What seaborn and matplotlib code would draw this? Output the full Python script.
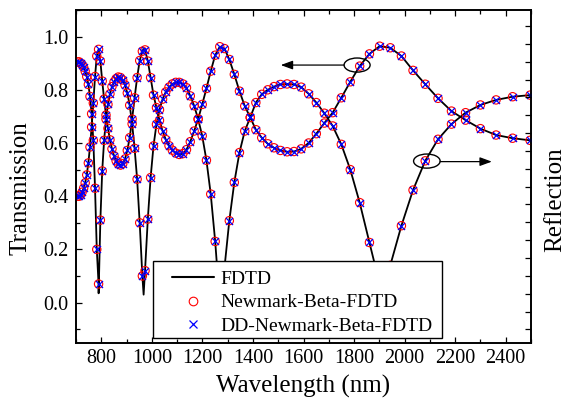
import matplotlib
matplotlib.use("Agg")
import matplotlib.pyplot as plt
from matplotlib.lines import Line2D
from matplotlib.patches import Ellipse, Rectangle
from matplotlib.ticker import MultipleLocator, FixedLocator
import pandas as pd
import seaborn as sns

# ---------------- data ----------------
wavelength = [706.6, 712.4, 718.2, 724.1, 730.1, 736.3, 742.5, 748.8, 755.3, 761.8,
              768.5, 775.3, 782.2, 789.3, 796.4, 803.7, 811.2, 818.7, 826.4, 834.3,
              842.3, 850.5, 858.8, 867.3, 876.0, 884.8, 893.8, 903.0, 912.4, 922.0,
              931.8, 941.8, 952.0, 962.5, 973.1, 984.1, 995.2, 1006.6, 1018.3, 1030.3,
              1042.5, 1055.1, 1067.9, 1081.1, 1094.6, 1108.4, 1122.6, 1137.1, 1152.1, 1167.4,
              1183.2, 1199.3, 1216.0, 1233.0, 1250.6, 1268.7, 1287.3, 1306.5, 1326.3, 1346.6,
              1367.6, 1389.3, 1411.6, 1434.7, 1458.6, 1483.2, 1508.7, 1535.2, 1562.5, 1590.8,
              1620.2, 1650.7, 1682.4, 1715.3, 1749.5, 1785.1, 1822.2, 1860.8, 1901.1, 1943.3,
              1987.3, 2033.3, 2081.6, 2132.2, 2185.3, 2241.1, 2299.9, 2361.8, 2427.2, 2496.3]

transmission = [0.400, 0.400, 0.405, 0.415, 0.430, 0.450, 0.480, 0.525, 0.585, 0.660,
                0.750, 0.850, 0.927, 0.952, 0.908, 0.833, 0.765, 0.705, 0.655, 0.612,
                0.578, 0.552, 0.533, 0.521, 0.517, 0.522, 0.540, 0.572, 0.620, 0.690,
                0.770, 0.846, 0.910, 0.945, 0.950, 0.908, 0.846, 0.780, 0.733, 0.685,
                0.645, 0.613, 0.590, 0.573, 0.562, 0.557, 0.560, 0.575, 0.605, 0.645,
                0.690, 0.745, 0.805, 0.870, 0.930, 0.962, 0.955, 0.914, 0.858, 0.795,
                0.739, 0.696, 0.650, 0.620, 0.597, 0.582, 0.572, 0.567, 0.568, 0.578,
                0.600, 0.635, 0.675, 0.714, 0.770, 0.830, 0.889, 0.935, 0.964, 0.958,
                0.927, 0.873, 0.821, 0.768, 0.720, 0.686, 0.654, 0.630, 0.618, 0.610]

reflection = [0.905, 0.905, 0.900, 0.895, 0.885, 0.870, 0.850, 0.820, 0.775, 0.710,
              0.610, 0.430, 0.200, 0.070, 0.310, 0.495, 0.610, 0.690, 0.745, 0.785,
              0.812, 0.830, 0.842, 0.848, 0.846, 0.837, 0.818, 0.788, 0.742, 0.672,
              0.580, 0.464, 0.300, 0.100, 0.120, 0.314, 0.470, 0.589, 0.670, 0.725,
              0.765, 0.792, 0.810, 0.822, 0.828, 0.828, 0.822, 0.808, 0.777, 0.740,
              0.690, 0.627, 0.535, 0.408, 0.230, 0.000, 0.130, 0.308, 0.452, 0.564,
              0.645, 0.696, 0.752, 0.783, 0.800, 0.812, 0.820, 0.822, 0.820, 0.810,
              0.785, 0.752, 0.712, 0.664, 0.595, 0.500, 0.376, 0.226, 0.070, 0.140,
              0.289, 0.423, 0.533, 0.614, 0.671, 0.714, 0.743, 0.762, 0.774, 0.780]

# extra FDTD extremes between the sampled points (resonance peak / dips)
peak_wavelength_T = [968.0]
peak_T = [0.955]
dip_wavelength_R = [789.5, 967.5, 1272.0, 1913.0]
dip_R = [0.035, 0.030, -0.020, 0.020]

x_ticks = [800, 1000, 1200, 1400, 1600, 1800, 2000, 2200, 2400]
y_ticks = [0.0, 0.2, 0.4, 0.6, 0.8, 1.0]
legend_labels = ["FDTD", "Newmark-Beta-FDTD", "DD-Newmark-Beta-FDTD"]

# ---------------- style ----------------
sns.set_style("ticks", rc={"axes.edgecolor": "black", "xtick.color": "black",
                           "ytick.color": "black", "text.color": "black",
                           "axes.labelcolor": "black"})
plt.rcParams["font.family"] = ["Liberation Serif", "DejaVu Serif"]

W, H = 566, 404
fig = plt.figure(figsize=(W / 100, H / 100), dpi=100)
ax_l, ax_r, ax_t, ax_b = 76, 531, 10, 342.5
ax = fig.add_axes([ax_l / W, 1 - ax_b / H, (ax_r - ax_l) / W, (ax_b - ax_t) / H])

line_T = pd.DataFrame({"wl": wavelength + peak_wavelength_T,
                       "v": transmission + peak_T}).sort_values("wl")
line_R = pd.DataFrame({"wl": wavelength + dip_wavelength_R,
                       "v": reflection + dip_R}).sort_values("wl")
pts = pd.DataFrame({"wl": wavelength + wavelength, "v": transmission + reflection})

for df in (line_T, line_R):
    sns.lineplot(data=df, x="wl", y="v", ax=ax, color="black", lw=1.3,
                 estimator=None, sort=True, zorder=2, legend=False)

sns.scatterplot(data=pts, x="wl", y="v", ax=ax, marker="o", s=36,
                color="red", facecolor="none", edgecolor="red", linewidth=0.8,
                zorder=3, legend=False)
sns.scatterplot(data=pts, x="wl", y="v", ax=ax, marker="x", s=26,
                color="blue", edgecolor="blue", linewidth=0.9,
                zorder=3.5, legend=False)

ax.set_xlim(700, 2500)
ax.set_ylim(-0.15, 1.1)
ax.xaxis.set_major_locator(FixedLocator(x_ticks))
ax.xaxis.set_minor_locator(MultipleLocator(100))
ax.yaxis.set_major_locator(FixedLocator(y_ticks))
ax.yaxis.set_minor_locator(MultipleLocator(0.1))
ax.set_xticklabels([str(v) for v in x_ticks])
ax.set_yticklabels([f"{v:.1f}" for v in y_ticks])

# right axis: tick marks only
ax2 = ax.twinx()
ax2.set_ylim(0.269, 18.896)
ax2.yaxis.set_major_locator(MultipleLocator(1))
ax2.tick_params(axis="y", direction="in", length=4.0, width=0.9, labelright=False)

ax.tick_params(axis="both", which="major", direction="in", length=4.5, width=0.9,
               top=True, right=False, labelsize=14.5)
ax.tick_params(axis="both", which="minor", direction="in", length=2.6, width=0.9,
               top=True, right=False)
ax.tick_params(axis="x", which="major", pad=4.5)
ax.tick_params(axis="y", which="major", pad=5.5)

for a in (ax, ax2):
    for s in a.spines.values():
        s.set_linewidth(1.2)
        s.set_color("black")

ax.set_xlabel("Wavelength (nm)", fontsize=18, labelpad=5)
ax.set_ylabel("Transmission", fontsize=18)
ax.yaxis.set_label_coords(-0.097, 0.465)
ax2.set_ylabel("Reflection", fontsize=18)
ax2.yaxis.set_label_coords(1.029, 0.43)

# annotations: ellipses + arrows
ax.add_patch(Ellipse((1812, 0.893), width=103, height=0.053, fill=False,
                     ec="black", lw=1.0, zorder=4))
ax.annotate("", xy=(1510, 0.893), xytext=(1760.5, 0.893),
            arrowprops=dict(arrowstyle="-|>,head_length=0.6,head_width=0.22",
                            color="black", lw=0.9, shrinkA=0, shrinkB=0,
                            mutation_scale=12), zorder=4)
ax.add_patch(Ellipse((2088, 0.532), width=105, height=0.053, fill=False,
                     ec="black", lw=1.0, zorder=4))
ax.annotate("", xy=(2345, 0.530), xytext=(2140.5, 0.530),
            arrowprops=dict(arrowstyle="-|>,head_length=0.6,head_width=0.22",
                            color="black", lw=0.9, shrinkA=0, shrinkB=0,
                            mutation_scale=12), zorder=4)

# legend with square frame
fx = lambda px: (px - ax_l) / (ax_r - ax_l)
fy = lambda py: (ax_b - py) / (ax_b - ax_t)
ax.add_patch(Rectangle((fx(153), fy(338)), fx(442) - fx(153), fy(260.5) - fy(338),
                       transform=ax.transAxes, facecolor="white", edgecolor="black",
                       lw=1.0, zorder=5))
handles = [
    Line2D([], [], color="black", lw=1.5),
    Line2D([], [], ls="none", marker="o", mfc="none", mec="red", ms=6.2, mew=0.8),
    Line2D([], [], ls="none", marker="x", color="blue", ms=5.5, mew=0.9),
]
leg = ax.legend(handles, legend_labels, loc="upper left",
                bbox_to_anchor=(fx(171.5), fy(270)), frameon=False,
                borderpad=0, borderaxespad=0, handlelength=2.2,
                handletextpad=0.3, labelspacing=0.32, fontsize=14)
leg.set_zorder(6)

fig.savefig("out.png", dpi=100)
